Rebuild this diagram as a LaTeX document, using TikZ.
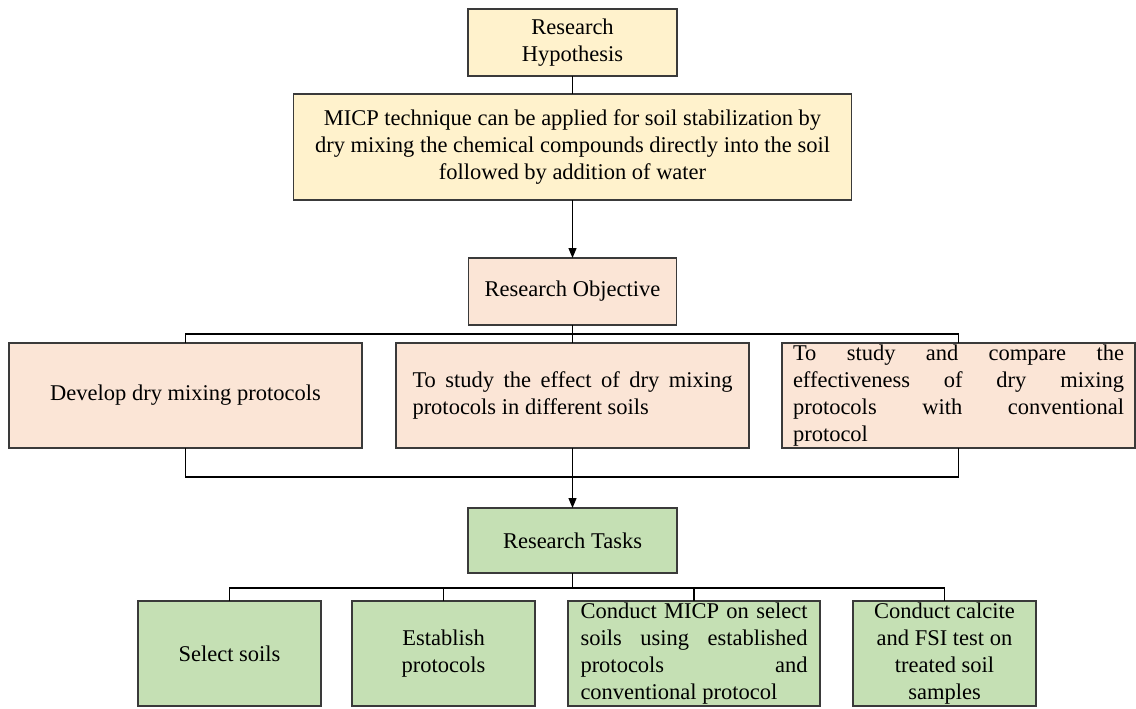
\documentclass[tikz,border=0pt]{standalone}
\usepackage{fontspec}
\setmainfont{Liberation Serif}
\usepackage{tikz}
\usetikzlibrary{positioning,arrows.meta,calc}

\definecolor{hypfill}{HTML}{FFF2CC}
\definecolor{objfill}{HTML}{FBE5D6}
\definecolor{taskfill}{HTML}{C5E0B4}
\definecolor{boxline}{HTML}{3A3A3A}
\newcommand{\boxfont}{\fontsize{11.25pt}{13.5pt}\selectfont}

\begin{document}
\begin{tikzpicture}[
    box/.style={draw=boxline, line width=0.7pt, align=center, inner sep=2pt, outer sep=0pt, font=\boxfont},
    hypo/.style={box, fill=hypfill},
    objv/.style={box, fill=objfill, minimum width=176.5pt, minimum height=52.5pt},
    task/.style={box, fill=taskfill, minimum width=91.5pt, minimum height=52.5pt},
    link/.style={line width=0.6pt},
    edge/.style={-{Triangle[length=5pt,width=4pt]}, line width=0.6pt}
]
\useasboundingbox (0,0) rectangle (568pt,-354pt);

\node[hypo, minimum width=104.5pt, minimum height=33.5pt] (hyp) at (286.25pt,-21.25pt) {Research\\Hypothesis};
\node[hypo, minimum width=279pt, minimum height=53pt, below=9pt of hyp] (micp)
    {MICP technique can be applied for soil stabilization by\\dry mixing the chemical compounds directly into the soil\\followed by addition of water};
\node[objv, fill=objfill, minimum width=104pt, minimum height=33.5pt, below=29pt of micp] (obj) {Research Objective};

\node[objv, below=9pt of obj, align=justify, text width=160pt, inner xsep=8.25pt] (o2)
    {To study the effect of dry mixing\linebreak protocols in different soils};
\node[objv, left=17pt of o2] (o1) {Develop dry mixing protocols};
\node[objv, right=16.5pt of o2, align=justify, text width=165.5pt, inner xsep=5.5pt, inner ysep=0pt] (o3)
    {To study and compare the\linebreak effectiveness of dry mixing\linebreak protocols with conventional\linebreak protocol};

\node[task, minimum width=104.5pt, minimum height=32.5pt, below=30pt of o2] (tasks) {Research Tasks};
\node[task, anchor=north west] (t1) at (69pt,-300.5pt) {Select soils};
\node[task, right=15.5pt of t1] (t2) {Establish\\protocols};
\node[task, right=16.5pt of t2, minimum width=126pt, align=justify, text width=113.5pt, inner xsep=6.25pt, inner ysep=0pt] (t3)
    {Conduct MICP on select\linebreak soils using established\linebreak protocols and\linebreak conventional protocol};
\node[task, right=16.5pt of t3, inner ysep=0pt] (t4) {Conduct calcite\\and FSI test on\\treated soil\\samples};

% spine
\draw[link] (hyp) -- (micp);
\draw[edge] (micp) -- (obj);

% objectives
\coordinate (bus1) at ($(obj.south)+(0,-4.5pt)$);
\coordinate (bus2) at ($(o2.south)+(0,-14.5pt)$);
\draw[link] (obj) -- (o2);
\draw[link] (o1.north) |- (bus1) -| (o3.north);
\draw[link] (o1.south) |- (bus2) -| (o3.south);
\draw[edge] (o2) -- (tasks);

% tasks
\coordinate (bus3) at ($(tasks.south)+(0,-7.5pt)$);
\draw[link] (tasks.south) -- (bus3);
\draw[link] (t1.north) |- (bus3) -| (t4.north);
\draw[link] (t2.north) -- (t2.north |- bus3);
\draw[link] (t3.north) -- (t3.north |- bus3);
\end{tikzpicture}
\end{document}
